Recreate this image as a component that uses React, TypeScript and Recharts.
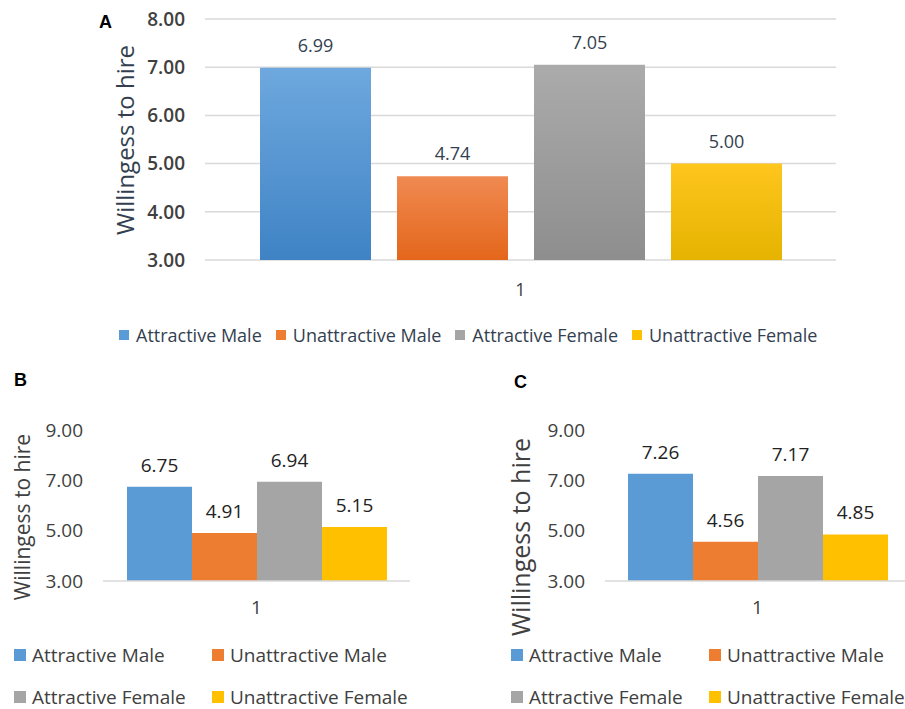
import React from "react"
import { BarChart, Bar, XAxis, YAxis, CartesianGrid, Legend, LabelList } from "recharts"

// series names and colours shared by the three panels
const SERIES = ["Attractive Male", "Unattractive Male", "Attractive Female", "Unattractive Female"]
const KEYS = ["am", "um", "af", "uf"]
const COLORS = ["#5b9bd5", "#ed7d31", "#a5a5a5", "#ffc000"]
const GRAD_TOP = ["#6ea8de", "#f08a52", "#ababab", "#ffc61e"]
const GRAD_BOTTOM = ["#3f83c5", "#e4661b", "#8e8e8e", "#e5b300"]

const CATEGORY = ["1"]

// panel values
const VALUES_A = [6.99, 4.74, 7.05, 5.0]
const VALUES_B = [6.75, 4.91, 6.94, 5.15]
const VALUES_C = [7.26, 4.56, 7.17, 4.85]

const TICKS_A = [3, 4, 5, 6, 7, 8]
const TICKS_BC = [3, 5, 7, 9]

const FONT = "'Open Sans', 'Noto Sans', sans-serif"
const TEXT = "#404040"
const NAVY = "#333f50"

const toRows = (vals: number[]) =>
  CATEGORY.map((c) => {
    const row: Record<string, string | number> = { name: c }
    KEYS.forEach((k, i) => (row[k] = vals[i]))
    return row
  })

// rotated axis title placed at a given point
const YTitle = ({ cx, cy, size, color }: { cx: number; cy: number; size: number; color: string }) => (
  <text
    x={cx}
    y={cy}
    transform={`rotate(-90 ${cx} ${cy})`}
    textAnchor="middle"
    dominantBaseline="central"
    fontFamily={FONT}
    fontSize={size}
    fill={color}
  >
    Willingess to hire
  </text>
)

const LegendRow = () => (
  <div style={{ display: "flex", alignItems: "center", fontFamily: FONT, fontSize: 18, color: NAVY, whiteSpace: "nowrap" }}>
    {SERIES.map((s, i) => (
      <span key={s} style={{ display: "inline-flex", alignItems: "center", marginRight: 14 }}>
        <span style={{ display: "inline-block", width: 10, height: 10, background: COLORS[i], marginRight: 7 }} />
        {s}
      </span>
    ))}
  </div>
)

const LegendGrid = () => (
  <div
    style={{
      display: "grid",
      gridTemplateColumns: "198px 200px",
      rowGap: 16,
      fontFamily: FONT,
      fontSize: 19,
      color: TEXT,
      whiteSpace: "nowrap",
    }}
  >
    {SERIES.map((s, i) => (
      <span key={s} style={{ display: "inline-flex", alignItems: "center", height: 26 }}>
        <span style={{ display: "inline-block", width: 12, height: 12, background: COLORS[i], marginRight: 6 }} />
        {s}
      </span>
    ))}
  </div>
)

const tickStyle = (size: number, color: string) => ({ fontFamily: FONT, fontSize: size, fill: color })

function PanelA() {
  return (
    <BarChart
      width={905}
      height={360}
      data={toRows(VALUES_A)}
      margin={{ top: 19, right: 69, left: 0, bottom: 70 }}
      barCategoryGap={55}
      barGap={26}
    >
      <defs>
        {KEYS.map((k, i) => (
          <linearGradient key={k} id={`grad-${k}`} x1="0" y1="0" x2="0" y2="1">
            <stop offset="0%" stopColor={GRAD_TOP[i]} />
            <stop offset="100%" stopColor={GRAD_BOTTOM[i]} />
          </linearGradient>
        ))}
      </defs>
      <CartesianGrid vertical={false} stroke="#d9d9d9" strokeWidth={1.5} />
      <XAxis
        dataKey="name"
        axisLine={false}
        tickLine={false}
        tickSize={0}
        tickMargin={23}
        height={30}
        tick={tickStyle(18, TEXT)}
      />
      <YAxis
        domain={[3, 8]}
        ticks={TICKS_A}
        width={205}
        axisLine={false}
        tickLine={false}
        tickSize={0}
        tickMargin={20}
        tickFormatter={(v: number) => v.toFixed(2)}
        tick={{ ...tickStyle(19, TEXT), fontWeight: 600 }}
        label={<YTitle cx={124} cy={140} size={24} color={NAVY} />}
      />
      <Legend layout="horizontal" verticalAlign="middle" align="center" content={<LegendRow />}
        wrapperStyle={{ left: 119, top: 323, width: 760 }} />
      {KEYS.map((k, i) => (
        <Bar key={k} dataKey={k} name={SERIES[i]} fill={`url(#grad-${k})`} isAnimationActive={false}>
          <LabelList dataKey={k} position="top" offset={16} formatter={(v: any) => Number(v).toFixed(2)}
            style={{ fontFamily: FONT, fontSize: 18, fill: NAVY }} />
        </Bar>
      ))}
    </BarChart>
  )
}

function SmallPanel({
  values, width, plotLeft, title,
}: { values: number[]; width: number; plotLeft: number; title: { cx: number; cy: number; size: number } }) {
  const plotW = width - plotLeft
  return (
    <BarChart
      width={width}
      height={349}
      data={toRows(values)}
      margin={{ top: 70, right: 0, left: 0, bottom: 98 }}
      barCategoryGap={Math.round((plotW - 259) / 2)}
      barGap={0}
    >
      <XAxis
        dataKey="name"
        axisLine={{ stroke: "#d9d9d9", strokeWidth: 1.5 }}
        tickLine={false}
        tickSize={0}
        tickMargin={20}
        height={30}
        tick={tickStyle(19, TEXT)}
      />
      <YAxis
        domain={[3, 9]}
        ticks={TICKS_BC}
        width={plotLeft}
        axisLine={false}
        tickLine={false}
        tickSize={0}
        tickMargin={20}
        tickFormatter={(v: number) => v.toFixed(2)}
        tick={tickStyle(19, TEXT)}
        label={<YTitle cx={title.cx} cy={title.cy} size={title.size} color={TEXT} />}
      />
      <Legend layout="horizontal" verticalAlign="middle" align="center" content={<LegendGrid />}
        wrapperStyle={{ left: plotLeft === 103 ? 14 : 61, top: 282, width: 420 }} />
      {KEYS.map((k, i) => (
        <Bar key={k} dataKey={k} name={SERIES[i]} fill={COLORS[i]} isAnimationActive={false}>
          <LabelList dataKey={k} position="top" offset={15} formatter={(v: any) => Number(v).toFixed(2)}
            style={{ fontFamily: FONT, fontSize: 19, fill: "#222222" }} />
        </Bar>
      ))}
    </BarChart>
  )
}

const panelLetter = (x: number, y: number): React.CSSProperties => ({
  position: "absolute", left: x, top: y, fontFamily: "'Liberation Sans', Arial, sans-serif",
  fontWeight: 700, fontSize: 18, color: "#000", lineHeight: 1,
})

export default function App() {
  return (
    <div style={{ position: "absolute", left: 0, top: 0, width: 905, height: 709, background: "#fff", overflow: "hidden" }}>
      <div style={{ position: "absolute", left: 0, top: 0 }}>
        <PanelA />
      </div>
      <div style={{ position: "absolute", left: 0, top: 360 }}>
        <SmallPanel values={VALUES_B} width={410} plotLeft={103} title={{ cx: 22, cy: 157, size: 21 }} />
      </div>
      <div style={{ position: "absolute", left: 450, top: 360 }}>
        <SmallPanel values={VALUES_C} width={460} plotLeft={155} title={{ cx: 70, cy: 177, size: 25 }} />
      </div>
      <div style={panelLetter(99, 13)}>A</div>
      <div style={panelLetter(14, 371)}>B</div>
      <div style={panelLetter(514, 373)}>C</div>
    </div>
  )
}
